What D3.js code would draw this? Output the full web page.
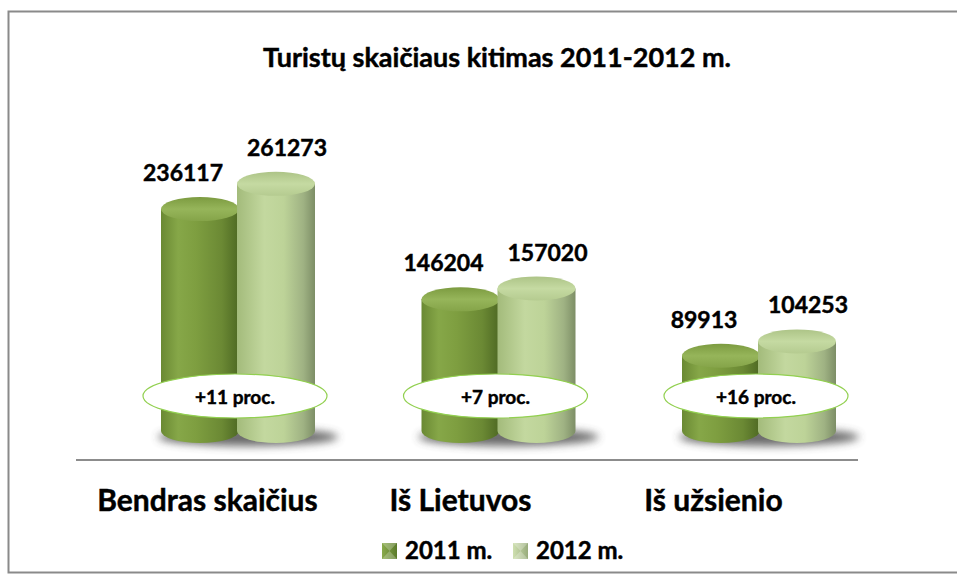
<!DOCTYPE html>
<html>
<head>
<meta charset="utf-8">
<script src="https://cdn.jsdelivr.net/npm/d3@7"></script>
<style>
  body { margin: 0; background: #fff; }
  text { font-family: Lato, "Open Sans", sans-serif; font-weight: bold; fill: #000; stroke: #000; stroke-width: 0.45px; }
</style>
</head>
<body>
<svg id="chart" width="957" height="578"></svg>
<script>
// data
const title = "Turistų skaičiaus kitimas 2011-2012 m."
const categories = ["Bendras skaičius", "Iš Lietuvos", "Iš užsienio"]
const series = ["2011 m.", "2012 m."]
const values2011 = [236117, 146204, 89913]
const values2012 = [261273, 157020, 104253]
const changes = ["+11 proc.", "+7 proc.", "+16 proc."]

const rows = categories.map((c, i) => ({
  cat: c,
  change: changes[i],
  bars: [
    { s: series[0], v: values2011[i] },
    { s: series[1], v: values2012[i] }
  ]
}))

const floorY = 460
const rx = 39, ry = 12
const bottomCy = 431

const svg = d3.select("#chart")
const defs = svg.append("defs")

// gradients for the cylinders
const grad = (id, stops, horiz = true) => {
  const g = defs.append("linearGradient").attr("id", id)
    .attr("x1", 0).attr("y1", 0).attr("x2", horiz ? 1 : 0).attr("y2", horiz ? 0 : 1)
  stops.forEach(s => g.append("stop").attr("offset", s[0]).attr("stop-color", s[1]))
}
grad("body0", [[0, "#6a8933"], [0.22, "#86a748"], [0.45, "#7e9e40"], [0.78, "#6b8934"], [1, "#4e6923"]])
grad("top0", [[0, "#7c9b40"], [0.5, "#96b55a"], [1, "#85a449"]], false)
grad("body1", [[0, "#a3bb7b"], [0.35, "#c3d89f"], [0.6, "#bdd398"], [0.85, "#9fb283"], [1, "#7d8e66"]])
grad("top1", [[0, "#adc487"], [0.5, "#c5daa2"], [1, "#b5cb90"]], false)
grad("leg0", [[0, "#8aab4c"], [1, "#5a7a2a"]])
grad("leg1", [[0, "#cfe0b0"], [1, "#98ab7c"]])

defs.append("filter").attr("id", "blur")
  .attr("x", "-50%").attr("y", "-200%").attr("width", "200%").attr("height", "500%")
  .append("feGaussianBlur").attr("stdDeviation", 4)

// frame
svg.append("rect")
  .attr("x", 8.5).attr("y", 11.5).attr("width", 960).attr("height", 561)
  .attr("fill", "#fff").attr("stroke", "#8a8a8a").attr("stroke-width", 2)

svg.append("text")
  .attr("x", 497).attr("y", 58).attr("dy", "0.35em")
  .attr("text-anchor", "middle").style("font-size", "27px")
  .text(title)

// scales
const x0 = d3.scalePoint().domain(categories).range([238, 759])
const x1 = d3.scaleBand().domain(series).range([-76, 76])
const y = d3.scaleLinear().domain([0, 300000]).range([446, 145])
const labelX = d3.scalePoint().domain(categories).range([207, 713])

// baseline + category labels
svg.append("line")
  .attr("x1", 76).attr("x2", 858).attr("y1", floorY).attr("y2", floorY)
  .attr("stroke", "#8c8c8c").attr("stroke-width", 2)

const xAxis = d3.axisBottom(labelX).tickSize(0)
const ax = svg.append("g").attr("transform", "translate(0," + floorY + ")").call(xAxis)
ax.select(".domain").remove()
ax.selectAll("text")
  .attr("y", 40).attr("dy", "0.35em")
  .style("font-size", "30px").style("font-family", "Lato, 'Open Sans', sans-serif")
  .attr("fill", "#000")

// groups
const groups = svg.append("g").selectAll("g")
  .data(rows).enter().append("g")
  .attr("transform", d => "translate(" + x0(d.cat) + ",0)")

// soft shadow under each pair
groups.append("ellipse")
  .attr("cx", 10).attr("cy", bottomCy + 6)
  .attr("rx", 90).attr("ry", 9)
  .attr("fill", "#444").attr("opacity", 0.8)
  .attr("filter", "url(#blur)")

const cyl = groups.selectAll("g.cyl")
  .data(d => d.bars).enter().append("g")
  .attr("class", "cyl")

const cx = d => x1(d.s) + x1.bandwidth() / 2

cyl.append("path")
  .attr("d", d => {
    const c = cx(d), t = y(d.v)
    return `M${c - rx},${t} L${c - rx},${bottomCy} A${rx},${ry} 0 0 0 ${c + rx},${bottomCy} L${c + rx},${t} Z`
  })
  .attr("fill", (d, i) => "url(#body" + i + ")")

cyl.append("ellipse")
  .attr("cx", cx).attr("cy", d => y(d.v))
  .attr("rx", rx).attr("ry", ry)
  .attr("fill", (d, i) => "url(#top" + i + ")")

cyl.append("text")
  .attr("x", (d, i) => cx(d) + (i === 0 ? -17 : 11))
  .attr("y", d => y(d.v) - ry - 24)
  .attr("dy", "0.35em")
  .attr("text-anchor", "middle")
  .style("font-size", "23px")
  .text(d => d.v)

// change callouts
groups.append("ellipse")
  .attr("cx", -3).attr("cy", 396)
  .attr("rx", 92).attr("ry", 22)
  .attr("fill", "#fff").attr("stroke", "#92d050").attr("stroke-width", 1.2)

groups.append("text")
  .attr("x", -3).attr("y", 397).attr("dy", "0.35em")
  .attr("text-anchor", "middle").style("font-size", "19px")
  .text(d => d.change)

// legend
const legend = svg.append("g").attr("transform", "translate(382,551)")
const li = legend.selectAll("g").data(series).enter().append("g")
  .attr("transform", (d, i) => "translate(" + i * 131 + ",0)")

li.append("rect")
  .attr("x", 0).attr("y", -8).attr("width", 15).attr("height", 16)
  .attr("fill", (d, i) => "url(#leg" + i + ")")
li.append("path")
  .attr("d", "M0,-8 L7.5,0 L15,-8 Z M0,8 L7.5,0 L15,8 Z")
  .attr("fill", "#fff").attr("opacity", 0.25)

li.append("text")
  .attr("x", 23).attr("y", 0).attr("dy", "0.35em")
  .style("font-size", "24px")
  .text(d => d)
</script>
</body>
</html>
